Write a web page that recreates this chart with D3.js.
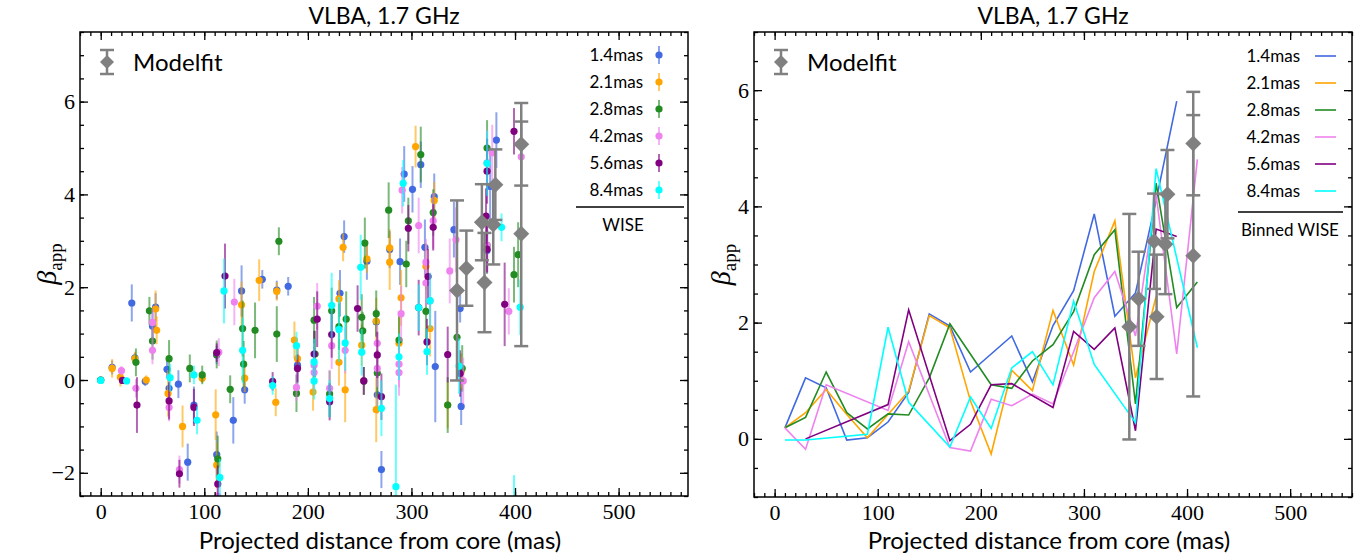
<!DOCTYPE html>
<html>
<head>
<meta charset="utf-8">
<script src="https://cdn.jsdelivr.net/npm/d3@7"></script>
<style>
body { margin: 0; background: #fff; }
</style>
</head>
<body>
<script>
// series names + colours (same order in both panels)
var names = ["1.4mas", "2.1mas", "2.8mas", "4.2mas", "5.6mas", "8.4mas"];
var colors = ["royalblue", "orange", "forestgreen", "violet", "purple", "cyan"];

// ---- left panel: WISE components (distance, beta_app, error) ----
var x14 = [0, 11, 30, 33, 43, 50, 53, 64, 66, 75, 84, 90, 112, 112, 128, 136, 139, 156, 170, 181, 190, 231, 235, 257, 266, 267, 271, 279, 289, 293, 301, 309, 313, 322, 323, 341, 347, 348, 373, 376, 382];
var b14 = [0, 0.27, 1.66, 0.48, -0.03, 1.16, 1.57, 0.23, -0.18, -0.09, -1.77, -0.54, 0.54, -1.61, -0.87, 1.92, -0.21, 2.17, 1.94, 2.02, 0.32, 1.87, 3.09, 2.56, 1.25, -0.32, -1.93, 2.81, 2.55, 4.44, 4.11, 4.64, 2.86, 3.95, 0.29, 3.24, 1.54, -0.57, 2.79, 4.17, 5.17];
var e14 = [0.05, 0.15, 0.4, 0.1, 0.1, 0.3, 0.3, 0.2, 0.3, 0.3, 0.4, 0.4, 0.2, 0.5, 0.5, 0.55, 0.3, 0.2, 0.2, 0.2, 0.4, 0.5, 0.35, 0.4, 0.3, 0.4, 0.4, 0.4, 0.5, 0.6, 0.5, 0.5, 0.6, 0.5, 1.2, 0.6, 0.3, 0.4, 0.5, 0.8, 0.6];

var x21 = [11, 19, 33, 44, 53, 54, 65, 79, 98, 111, 112, 136, 139, 153, 169, 170, 187, 190, 205, 230, 230, 234, 236, 252, 257, 266, 266, 279, 279, 288, 290, 304, 314, 318, 322, 335, 348];
var b21 = [0.25, 0.06, 0.46, 0, 1.53, 1.07, -0.29, -1.0, 0.04, -0.75, -1.83, 1.62, 0.04, 2.15, -0.48, 1.91, 0.86, 0.46, -0.26, 0.38, 1.75, 2.86, -0.21, 0.75, 2.61, 1.27, -0.64, 2.54, 2.85, 0.79, 1.77, 5.03, 2.45, 1.11, 3.87, -0.54, 0.18];
var e21 = [0.2, 0.2, 0.15, 0.1, 0.4, 0.3, 0.5, 0.45, 0.1, 0.55, 0.5, 0.5, 0.3, 0.45, 0.3, 0.2, 0.4, 0.3, 0.4, 0.5, 0.4, 0.3, 0.7, 0.45, 0.3, 0.5, 0.7, 0.6, 0.4, 0.6, 0.6, 0.45, 0.5, 0.6, 0.4, 0.5, 0.4];

var x28 = [0, 34, 47, 50, 66, 86, 98, 112, 113, 125, 137, 138, 149, 170, 172, 189, 206, 207, 221, 223, 230, 237, 252, 253, 254, 255, 266, 267, 278, 288, 295, 297, 309, 314, 321, 335, 344, 349, 373, 373, 399, 403];
var b28 = [0, 0.38, 1.49, 0.84, 0.46, 0.25, 0.11, 0.55, -1.7, -0.2, 1.11, 0.34, 1.07, 0.99, 2.99, -0.29, 1.29, 0.56, -0.3, 1.49, 1.15, 1.31, 1.35, 1.06, -0.02, 2.95, 1.43, 0.15, 3.66, 0.86, 2.5, 3.43, 4.86, 1.48, 3.61, -0.54, 0.92, 0.25, 5.0, 2.9, 2.27, 2.7];
var e28 = [0.05, 0.3, 0.3, 0.4, 0.4, 0.3, 0.2, 0.3, 0.5, 0.3, 0.6, 0.5, 0.6, 0.6, 0.3, 0.4, 0.5, 0.5, 0.5, 0.5, 0.5, 0.6, 0.5, 0.4, 0.3, 0.55, 0.5, 0.5, 0.6, 0.6, 0.5, 0.5, 0.6, 0.7, 0.5, 0.6, 0.6, 0.5, 0.6, 0.6, 0.6, 0.7];

var x42 = [20, 34, 50, 50, 66, 76, 113, 114, 129, 189, 206, 206, 209, 221, 223, 236, 267, 267, 288, 288, 290, 291, 307, 314, 314, 318, 321, 337, 343, 350, 373, 373, 378, 394, 406];
var b42 = [0.2, -0.18, 0.64, 1.24, -0.59, -1.93, -2.5, 0.6, 1.68, -0.16, 0.32, 0.16, 1.59, -0.18, 0.74, 0.64, 0.79, 0.25, 0.34, 0.16, 1.43, 4.09, 3.33, 2.54, 2.09, 1.71, 3.43, 2.35, 3.02, -0.02, 2.91, 4.68, 4.9, 1.48, 4.81];
var e42 = [0.1, 0.2, 0.3, 0.3, 0.3, 0.3, 0.3, 0.3, 0.5, 0.3, 0.4, 0.4, 0.5, 0.4, 0.5, 0.5, 0.4, 0.4, 0.5, 0.5, 0.6, 0.5, 0.6, 0.5, 0.5, 0.6, 0.6, 0.7, 0.7, 0.5, 0.6, 0.7, 0.6, 0.5, 0.6];

var x56 = [21, 35, 66, 76, 90, 112, 113, 120, 166, 190, 206, 209, 221, 223, 248, 254, 267, 271, 297, 307, 315, 316, 321, 335, 347, 372, 373, 373, 390, 399];
var b56 = [-0.01, -0.54, -0.45, -2.02, -0.59, 0.59, -2.24, 2.24, -0.03, 0.25, 0.56, 1.31, -0.47, 0.98, 1.54, -0.02, 0.54, -0.36, 3.27, 1.56, 0.82, 2.23, 3.29, 0.55, 0.14, 3.53, 4.5, 2.82, 1.63, 5.36];
var e56 = [0.05, 0.6, 0.4, 0.3, 0.4, 0.2, 0.4, 0.7, 0.2, 0.3, 0.5, 0.6, 0.4, 0.5, 0.5, 0.3, 0.5, 0.5, 0.5, 0.6, 0.5, 0.6, 0.5, 0.6, 0.5, 0.6, 0.7, 0.5, 0.9, 0.5];

var x84 = [0, 25, 67, 90, 93, 115, 119, 137, 166, 189, 206, 206, 221, 223, 230, 236, 251, 252, 271, 285, 288, 292, 307, 315, 318, 346, 373, 387, 399, 405];
var b84 = [-0.01, -0.02, 0.05, 0.11, -0.87, -2.1, 1.92, 0.64, -0.12, 0.74, 0.39, -0.02, -0.4, 1.61, 1.09, 0.8, 2.43, 0.6, -0.61, -2.3, 0.5, 4.24, 1.56, 0.61, 1.71, 0.3, 4.67, 3.29, -2.7, 1.57];
var e84 = [0.05, 0.05, 0.3, 0.2, 0.3, 0.4, 0.7, 0.7, 0.2, 0.3, 0.5, 0.4, 0.4, 0.7, 0.7, 0.6, 0.7, 0.5, 0.6, 2.2, 0.5, 0.5, 0.5, 0.5, 0.6, 0.6, 0.7, 0.3, 0.65, 0.6];

// ---- modelfit components (both panels) ----
var mfX = [344, 353, 368, 370.5, 379, 381, 406, 406];
var mfB = [1.93, 2.41, 3.40, 2.10, 3.35, 4.21, 5.08, 3.15];
var mfE = [1.94, 0.81, 0.82, 1.07, 0.86, 0.76, 0.89, 2.42];

// ---- right panel: binned WISE (null = empty bin) ----
var bins = [10, 30, 50, 70, 90, 110, 130, 150, 170, 190, 210, 230, 250, 270, 290, 310, 330, 350, 370, 390, 410];
var bin14 = [0.19, 1.05, 0.88, -0.02, 0.02, 0.29, 0.8, 2.15, 1.94, 1.15, null, 1.77, 0.98, 1.95, 2.55, 3.87, 2.11, 2.51, 4.1, 5.81, null];
var bin21 = [0.19, 0.45, 0.85, 0.42, 0.02, 0.42, 0.82, 2.12, 1.91, 0.65, -0.26, 1.18, 0.83, 2.21, 1.27, 2.88, 3.75, 1.05, 2.45, null, null];
var bin28 = [0.19, 0.37, 1.15, 0.45, 0.17, 0.43, 0.41, 1.05, 1.98, null, 0.93, 0.87, 1.34, 1.62, 2.19, 3.17, 3.6, 0.6, 4.4, 2.26, 2.7];
var bin42 = [0.19, -0.18, 0.93, null, null, 0.49, 1.67, null, -0.15, -0.21, 0.68, 0.57, 0.77, 0.6, 1.5, 2.43, 2.88, 1.77, 4.2, 1.46, 4.81];
var bin56 = [null, 0.0, null, null, null, 0.59, 2.22, null, -0.03, 0.25, 0.93, 0.95, null, 0.54, 1.85, 1.54, 1.91, 0.14, 3.61, 3.48, null];
var bin84 = [-0.02, -0.02, null, null, 0.08, 1.92, 0.63, null, -0.14, 0.72, 0.18, 1.22, 1.5, 0.93, 2.37, 1.28, null, 0.28, 4.65, null, 1.57];

var xTicks = [0, 100, 200, 300, 400, 500];

var leftX = [x14, x21, x28, x42, x56, x84];
var leftB = [b14, b21, b28, b42, b56, b84];
var leftE = [e14, e21, e28, e42, e56, e84];
var binned = [bin14, bin21, bin28, bin42, bin56, bin84];

var SANS = "Lato, 'Open Sans', sans-serif";
var SERIF = "'Liberation Serif', 'DejaVu Serif', serif";

//Make an SVG Container
var svg = d3.select("body").append("svg")
                           .attr("width", 1369)
                           .attr("height", 557);

// panel boxes
var left = { x0: 80, x1: 688, y0: 32, y1: 496, xd: [-20, 567], yd: [-2.5, 7.5], yt: [-2, 0, 2, 4, 6], id: "L" };
var right = { x0: 754, x1: 1352, y0: 32, y1: 497, xd: [-20, 560], yd: [-1, 7], yt: [0, 2, 4, 6], id: "R" };

// draws axes box, ticks, title and labels of one panel
function drawFrame(p) {
    p.x = d3.scaleLinear().domain(p.xd).range([p.x0, p.x1]);
    p.y = d3.scaleLinear().domain(p.yd).range([p.y1, p.y0]);

    svg.append("clipPath").attr("id", "clip" + p.id)
       .append("rect").attr("x", p.x0).attr("y", p.y0)
       .attr("width", p.x1 - p.x0).attr("height", p.y1 - p.y0);

    p.g = svg.append("g").attr("clip-path", "url(#clip" + p.id + ")");

    var minorX = d3.range(-20, p.xd[1] + 0.1, 10);
    var minorY = d3.range(p.yd[0], p.yd[1] + 0.01, 0.5);
    var axes = svg.append("g").attr("class", "axes");

    // bottom
    axes.append("g").attr("transform", "translate(0," + p.y1 + ")")
        .call(d3.axisBottom(p.x).tickValues(minorX).tickSize(-4).tickSizeOuter(0).tickFormat(""));
    axes.append("g").attr("transform", "translate(0," + p.y1 + ")")
        .call(d3.axisBottom(p.x).tickValues(xTicks).tickSize(-8).tickSizeOuter(0).tickPadding(7))
        .selectAll("text").attr("font-family", SERIF).attr("font-size", 22).attr("fill", "#000");
    // top
    axes.append("g").attr("transform", "translate(0," + p.y0 + ")")
        .call(d3.axisTop(p.x).tickValues(minorX).tickSize(-4).tickSizeOuter(0).tickFormat(""));
    axes.append("g").attr("transform", "translate(0," + p.y0 + ")")
        .call(d3.axisTop(p.x).tickValues(xTicks).tickSize(-8).tickSizeOuter(0).tickFormat(""));
    // left
    axes.append("g").attr("transform", "translate(" + p.x0 + ",0)")
        .call(d3.axisLeft(p.y).tickValues(minorY).tickSize(-4).tickSizeOuter(0).tickFormat(""));
    axes.append("g").attr("transform", "translate(" + p.x0 + ",0)")
        .call(d3.axisLeft(p.y).tickValues(p.yt).tickSize(-8).tickSizeOuter(0).tickPadding(5))
        .selectAll("text").attr("font-family", SERIF).attr("font-size", 22).attr("fill", "#000");
    // right
    axes.append("g").attr("transform", "translate(" + p.x1 + ",0)")
        .call(d3.axisRight(p.y).tickValues(minorY).tickSize(-4).tickSizeOuter(0).tickFormat(""));
    axes.append("g").attr("transform", "translate(" + p.x1 + ",0)")
        .call(d3.axisRight(p.y).tickValues(p.yt).tickSize(-8).tickSizeOuter(0).tickFormat(""));

    axes.selectAll("path.domain").remove();
    axes.selectAll("line").attr("stroke", "#000").attr("stroke-width", 1.3);

    // frame
    svg.append("rect").attr("x", p.x0).attr("y", p.y0)
       .attr("width", p.x1 - p.x0).attr("height", p.y1 - p.y0)
       .attr("fill", "none").attr("stroke", "#000").attr("stroke-width", 1.5);

    var cx = (p.x0 + p.x1) / 2;
    svg.append("text").attr("x", cx).attr("y", 24)
       .attr("text-anchor", "middle").attr("font-family", SANS).attr("font-size", 23)
       .text("VLBA, 1.7 GHz");
    svg.append("text").attr("x", cx - 4).attr("y", 549)
       .attr("text-anchor", "middle").attr("font-family", SANS).attr("font-size", 24)
       .text("Projected distance from core (mas)");

    // beta_app label
    var yl = svg.append("text")
       .attr("transform", "translate(" + (p.x0 - 24) + "," + ((p.y0 + p.y1) / 2) + ") rotate(-90)")
       .attr("text-anchor", "middle").attr("font-family", SERIF).attr("font-size", 28);
    yl.append("tspan").attr("font-style", "italic").text("β");
    yl.append("tspan").attr("font-size", 19).attr("dy", 6).text("app");
}

// gray modelfit diamonds with capped error bars
function drawModelfit(p) {
    var g = p.g.append("g");
    for (var i = 0; i < mfX.length; i++) {
        var xx = p.x(mfX[i]);
        var lo = p.y(mfB[i] - mfE[i]), hi = p.y(mfB[i] + mfE[i]);
        g.append("line").attr("x1", xx).attr("x2", xx).attr("y1", lo).attr("y2", hi)
         .attr("stroke", "gray").attr("stroke-width", 2.5);
        g.append("line").attr("x1", xx - 7).attr("x2", xx + 7).attr("y1", lo).attr("y2", lo)
         .attr("stroke", "gray").attr("stroke-width", 2.5);
        g.append("line").attr("x1", xx - 7).attr("x2", xx + 7).attr("y1", hi).attr("y2", hi)
         .attr("stroke", "gray").attr("stroke-width", 2.5);
    }
    for (var i = 0; i < mfX.length; i++) {
        g.append("path").attr("d", diamond(p.x(mfX[i]), p.y(mfB[i]), 8)).attr("fill", "gray");
    }
}

function diamond(cx, cy, r) {
    return "M" + cx + "," + (cy - r) + "L" + (cx + r) + "," + cy + "L" + cx + "," + (cy + r) + "L" + (cx - r) + "," + cy + "Z";
}

function modelfitLegend(x, y) {
    svg.append("line").attr("x1", x).attr("x2", x).attr("y1", y - 12).attr("y2", y + 12)
       .attr("stroke", "gray").attr("stroke-width", 2.5);
    svg.append("line").attr("x1", x - 7).attr("x2", x + 7).attr("y1", y - 12).attr("y2", y - 12)
       .attr("stroke", "gray").attr("stroke-width", 2.5);
    svg.append("line").attr("x1", x - 7).attr("x2", x + 7).attr("y1", y + 12).attr("y2", y + 12)
       .attr("stroke", "gray").attr("stroke-width", 2.5);
    svg.append("path").attr("d", diamond(x, y, 7)).attr("fill", "gray");
    svg.append("text").attr("x", x + 26).attr("y", y + 9).attr("font-family", SANS)
       .attr("font-size", 24).text("Modelfit");
}

drawFrame(left);
drawFrame(right);

// left panel scatter with error bars
for (var s = 0; s < 6; s++) {
    var g = left.g.append("g");
    for (var i = 0; i < leftX[s].length; i++) {
        var xx = left.x(leftX[s][i]);
        g.append("line").attr("x1", xx).attr("x2", xx)
         .attr("y1", left.y(leftB[s][i] - leftE[s][i]))
         .attr("y2", left.y(leftB[s][i] + leftE[s][i]))
         .attr("stroke", colors[s]).attr("stroke-opacity", 0.6).attr("stroke-width", 2);
    }
    for (var i = 0; i < leftX[s].length; i++) {
        g.append("circle").attr("cx", left.x(leftX[s][i])).attr("cy", left.y(leftB[s][i]))
         .attr("r", 3.6).attr("fill", colors[s]);
    }
}
drawModelfit(left);

// right panel binned lines
var line = d3.line().x(function(d) { return right.x(d[0]); }).y(function(d) { return right.y(d[1]); });
for (var s = 0; s < 6; s++) {
    var pts = [];
    for (var i = 0; i < bins.length; i++) {
        if (binned[s][i] !== null) pts.push([bins[i], binned[s][i]]);
    }
    right.g.append("path").attr("d", line(pts)).attr("fill", "none")
           .attr("stroke", colors[s]).attr("stroke-width", 1.6);
}
drawModelfit(right);

// legends
modelfitLegend(107, 62);
modelfitLegend(781, 62);

for (var s = 0; s < 6; s++) {
    var ly = 55 + s * 27;
    // left legend: dot with small bar
    svg.append("text").attr("x", 643).attr("y", ly + 6).attr("text-anchor", "end")
       .attr("font-family", SANS).attr("font-size", 17).text(names[s]);
    svg.append("line").attr("x1", 659).attr("x2", 659).attr("y1", ly - 9).attr("y2", ly + 9)
       .attr("stroke", colors[s]).attr("stroke-opacity", 0.6).attr("stroke-width", 2);
    svg.append("circle").attr("cx", 659).attr("cy", ly).attr("r", 3.6).attr("fill", colors[s]);
    // right legend: line sample
    var ry = 56 + s * 27;
    svg.append("text").attr("x", 1300).attr("y", ry + 6).attr("text-anchor", "end")
       .attr("font-family", SANS).attr("font-size", 17).text(names[s]);
    svg.append("line").attr("x1", 1315).attr("x2", 1336).attr("y1", ry).attr("y2", ry)
       .attr("stroke", colors[s]).attr("stroke-width", 1.6);
}
svg.append("line").attr("x1", 576).attr("x2", 684).attr("y1", 207).attr("y2", 207)
   .attr("stroke", "#000").attr("stroke-width", 1.3);
svg.append("text").attr("x", 623).attr("y", 231).attr("text-anchor", "middle")
   .attr("font-family", SANS).attr("font-size", 17).text("WISE");
svg.append("line").attr("x1", 1238).attr("x2", 1343).attr("y1", 212).attr("y2", 212)
   .attr("stroke", "#000").attr("stroke-width", 1.3);
svg.append("text").attr("x", 1290).attr("y", 236).attr("text-anchor", "middle")
   .attr("font-family", SANS).attr("font-size", 17).text("Binned WISE");
</script>
</body>
</html>
